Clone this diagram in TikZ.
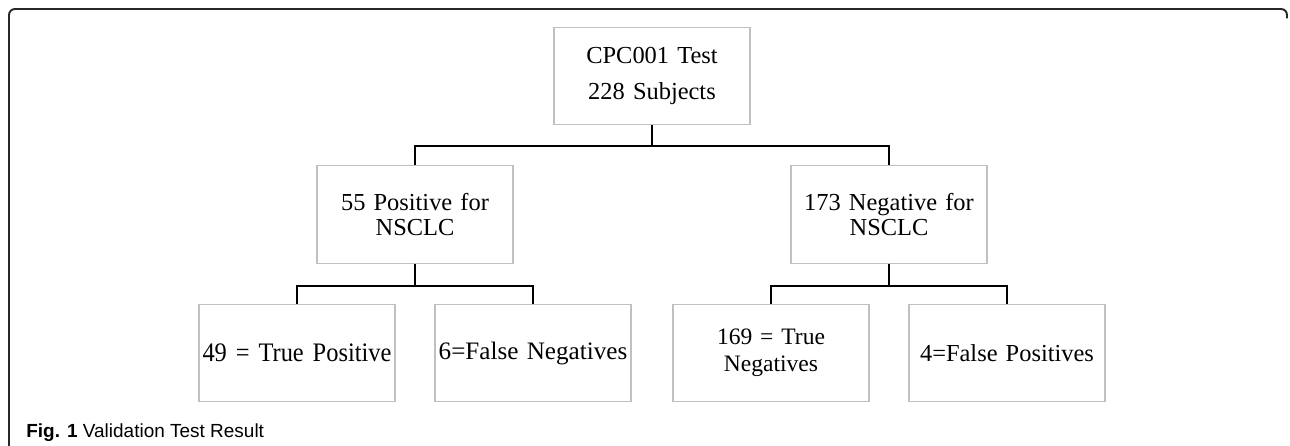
\documentclass[tikz,border=0pt]{standalone}
\usepackage{fontspec}
\setmainfont{Liberation Serif}
\setsansfont{Liberation Sans}
\newfontfamily\narrowserif{Liberation Serif}[FakeStretch=0.915]
\usetikzlibrary{positioning}
\definecolor{boxgray}{RGB}{192,192,192}
\definecolor{framegray}{RGB}{40,40,40}
\tikzstyle{result} = [rectangle, minimum width=3.92cm, text width=3.88cm, minimum height=1.95cm, align=center, draw=boxgray, line width=0.7pt, font=\fontsize{13.9}{14.2}\selectfont, inner sep=0pt]
\tikzstyle{conn} = [line width=1pt, black]
\tikzstyle{frame} = [line width=1.1pt, framegray, rounded corners=0.12cm]

\begin{document}
\begin{tikzpicture}[node distance=2.77cm]
		\useasboundingbox (0,0) rectangle (25.8,8.92);
		\draw[frame] (0.18,-0.2) -- (0.18,8.74) -- (25.74,8.74) -- (25.74,8.55);
		\node (test) [result, font=\fontsize{13.9}{21}\selectfont] at (13.04,7.40) {CPC001 Test\\228 Subjects};
		\node (pos) [result, below of=test, xshift=-4.74cm] {55 Positive for\\NSCLC};
		\node (neg) [result, below of=test, xshift=4.74cm] {173 Negative for\\NSCLC};
		\node (tp) [result, below of=pos, xshift=-2.36cm, font=\narrowserif\fontsize{15.2}{16}\selectfont] {49 = True Positive};
		\node (fn) [result, below of=pos, xshift=2.36cm, font=\fontsize{14.3}{15}\selectfont] {6=False Negatives};
		\node (tn) [result, below of=neg, xshift=-2.36cm, font=\fontsize{13.4}{15.4}\selectfont] {169 = True\\Negatives};
		\node (fp) [result, below of=neg, xshift=2.36cm] {4=False Positives};
		\draw[conn] (test.south) -- ++(0,-0.42) -| (pos.north);
		\draw[conn] (test.south) -- ++(0,-0.42) -| (neg.north);
		\draw[conn] (pos.south) -- ++(0,-0.44) -| (tp.north);
		\draw[conn] (pos.south) -- ++(0,-0.44) -| (fn.north);
		\draw[conn] (neg.south) -- ++(0,-0.44) -| (tn.north);
		\draw[conn] (neg.south) -- ++(0,-0.44) -| (fp.north);
		\node (caption) [anchor=base west, font=\sffamily\fontsize{10.8}{13}\selectfont, inner sep=0pt] at (0.52,0.16) {\textbf{Fig. 1} Validation Test Result};
	\end{tikzpicture}
\end{document}
